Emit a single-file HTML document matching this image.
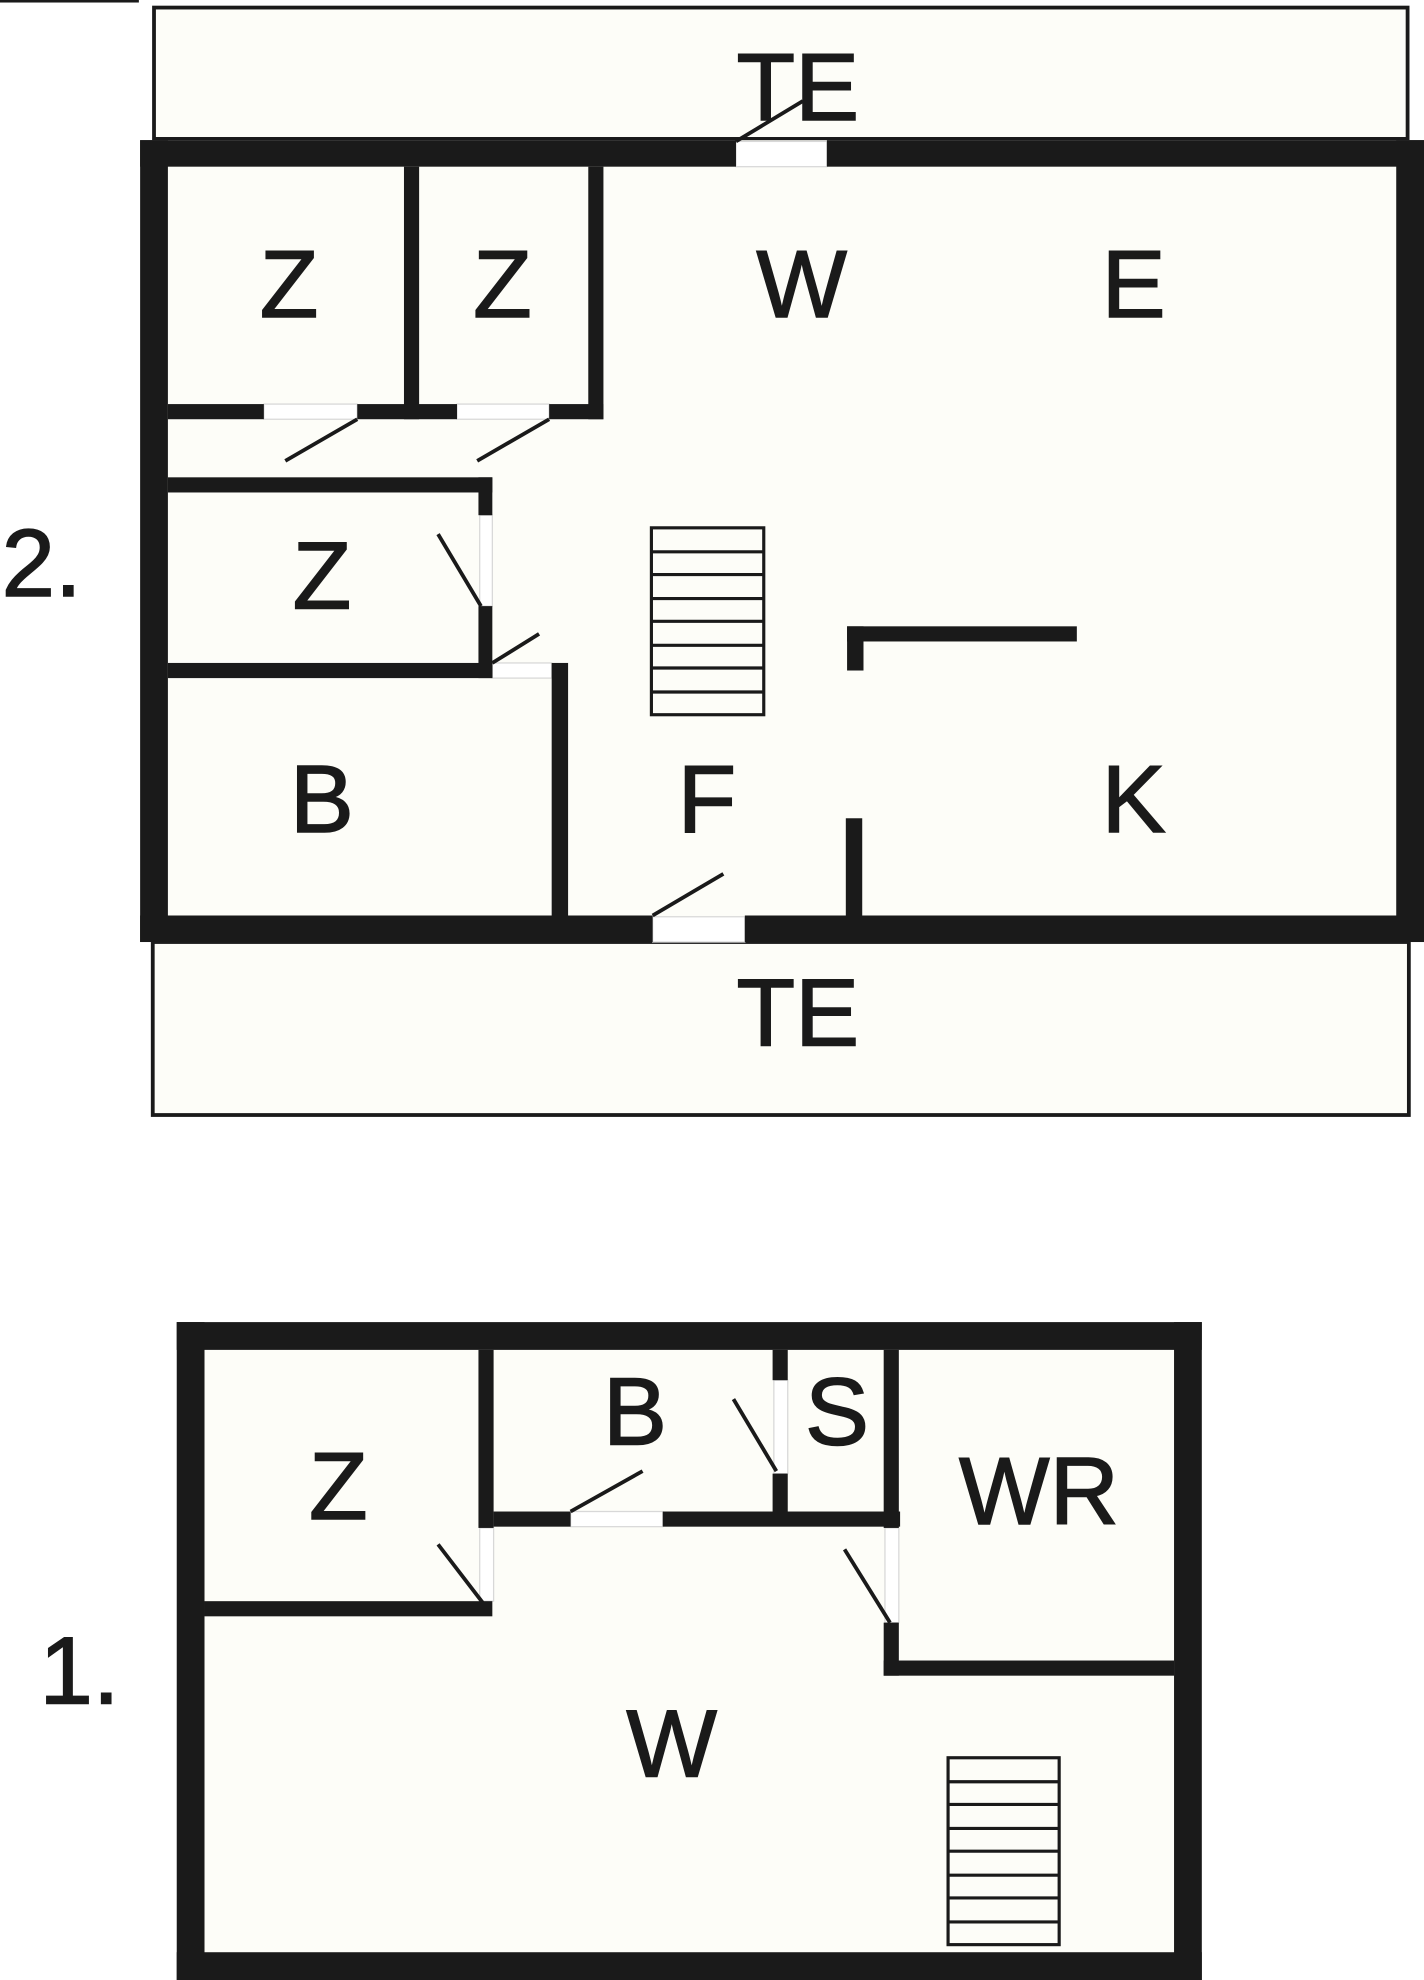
<!DOCTYPE html>
<html><head><meta charset="utf-8"><style>
html,body{margin:0;padding:0;background:#fff;width:1424px;height:1980px;overflow:hidden}
svg{display:block}
text{font-family:"Liberation Sans",Arial,sans-serif;font-size:76px;fill:#1a1a1a;stroke:#1a1a1a;stroke-width:1.2;text-anchor:middle}
</style></head><body>
<svg width="1424" height="1980" viewBox="0 0 1128 1568" preserveAspectRatio="none" xmlns="http://www.w3.org/2000/svg">
<g fill="#1a1a1a">
<rect x="0" y="0" width="110" height="2"/>
</g>
<!-- UPPER PLAN -->
<rect x="122" y="6" width="993" height="104" fill="#fdfdf8" stroke="#1a1a1a" stroke-width="3"/>
<rect x="121" y="746" width="995" height="137" fill="#fdfdf8" stroke="#1a1a1a" stroke-width="3"/>
<rect x="111" y="111" width="1017" height="635" fill="#fdfdf8"/>
<g fill="#fff" stroke="#d8d8d8" stroke-width="1">
<rect x="583" y="112" width="72" height="20"/>
<rect x="517" y="726" width="73" height="20"/>
<rect x="209" y="320" width="74" height="12"/>
<rect x="362" y="320" width="73" height="12"/>
<rect x="380" y="408" width="10" height="72"/>
<rect x="390" y="525" width="47" height="12"/>
<rect x="452" y="1197" width="73" height="12"/>
<rect x="613" y="1093" width="11" height="74"/>
<rect x="701" y="1210" width="11" height="75"/>
<rect x="380" y="1210" width="11" height="58"/>
</g>
<g fill="#1a1a1a">
<rect x="111" y="111" width="472" height="21"/>
<rect x="655" y="111" width="473" height="21"/>
<rect x="111" y="111" width="22" height="635"/>
<rect x="1106" y="111" width="22" height="635"/>
<rect x="111" y="725" width="406" height="21"/>
<rect x="590" y="725" width="538" height="21"/>
<rect x="320" y="132" width="12" height="200"/>
<rect x="466" y="132" width="12" height="200"/>
<rect x="133" y="320" width="76" height="12"/>
<rect x="283" y="320" width="79" height="12"/>
<rect x="435" y="320" width="43" height="12"/>
<rect x="133" y="378" width="257" height="12"/>
<rect x="379" y="378" width="11" height="30"/>
<rect x="379" y="480" width="11" height="57"/>
<rect x="133" y="525" width="257" height="12"/>
<rect x="437" y="525" width="13" height="200"/>
<rect x="671" y="496" width="182" height="12"/>
<rect x="671" y="496" width="13" height="35"/>
<rect x="670" y="648" width="13" height="77"/>
</g>
<g stroke="#1a1a1a" stroke-width="3" fill="none">
<line x1="583" y1="112" x2="636" y2="80"/>
<line x1="517" y1="725" x2="573" y2="692"/>
<line x1="226" y1="365" x2="283" y2="332"/>
<line x1="378" y1="365" x2="435" y2="332"/>
<line x1="347" y1="423" x2="381" y2="480"/>
<line x1="390" y1="525" x2="427" y2="502"/>
</g>
<g stroke="#1a1a1a" stroke-width="2.5" fill="none">
<rect x="516" y="418" width="89" height="148"/>
<line x1="516" y1="437" x2="605" y2="437"/>
<line x1="516" y1="455" x2="605" y2="455"/>
<line x1="516" y1="474" x2="605" y2="474"/>
<line x1="516" y1="492" x2="605" y2="492"/>
<line x1="516" y1="511" x2="605" y2="511"/>
<line x1="516" y1="529" x2="605" y2="529"/>
<line x1="516" y1="548" x2="605" y2="548"/>
</g>
<text x="632" y="95">TE</text>
<text x="632" y="828">TE</text>
<text x="229" y="251">Z</text>
<text x="398" y="251">Z</text>
<text x="635" y="251">W</text>
<text x="898" y="251">E</text>
<text x="255" y="482">Z</text>
<text x="255" y="659">B</text>
<text x="560" y="659">F</text>
<text x="898" y="659">K</text>
<text x="33" y="472">2.</text>
<!-- LOWER PLAN -->
<rect x="162" y="1069" width="768" height="477" fill="#fdfdf8"/>
<g fill="#fff" stroke="#d8d8d8" stroke-width="1">
<rect x="452" y="1197" width="73" height="12"/>
<rect x="613" y="1093" width="11" height="74"/>
<rect x="701" y="1210" width="11" height="75"/>
<rect x="380" y="1210" width="11" height="58"/>
</g>
<g fill="#1a1a1a">
<rect x="140" y="1047" width="812" height="22"/>
<rect x="140" y="1047" width="22" height="521"/>
<rect x="930" y="1047" width="22" height="521"/>
<rect x="140" y="1546" width="812" height="22"/>
<rect x="162" y="1268" width="228" height="12"/>
<rect x="379" y="1069" width="12" height="141"/>
<rect x="391" y="1197" width="61" height="12"/>
<rect x="525" y="1197" width="188" height="12"/>
<rect x="612" y="1069" width="12" height="24"/>
<rect x="612" y="1167" width="12" height="33"/>
<rect x="700" y="1069" width="12" height="141"/>
<rect x="700" y="1285" width="12" height="42"/>
<rect x="700" y="1315" width="230" height="12"/>
</g>
<g stroke="#1a1a1a" stroke-width="3" fill="none">
<line x1="347" y1="1223" x2="383" y2="1270"/>
<line x1="452" y1="1197" x2="509" y2="1165"/>
<line x1="581" y1="1108" x2="615" y2="1165"/>
<line x1="669" y1="1227" x2="705" y2="1285"/>
</g>
<g stroke="#1a1a1a" stroke-width="2.5" fill="none">
<rect x="751" y="1392" width="88" height="148"/>
<line x1="751" y1="1411" x2="839" y2="1411"/>
<line x1="751" y1="1429" x2="839" y2="1429"/>
<line x1="751" y1="1448" x2="839" y2="1448"/>
<line x1="751" y1="1466" x2="839" y2="1466"/>
<line x1="751" y1="1485" x2="839" y2="1485"/>
<line x1="751" y1="1503" x2="839" y2="1503"/>
<line x1="751" y1="1522" x2="839" y2="1522"/>
</g>
<text x="503" y="1144">B</text>
<text x="663" y="1144">S</text>
<text x="268" y="1203">Z</text>
<text x="823" y="1207">WR</text>
<text x="532" y="1407">W</text>
<text x="63" y="1349">1.</text>
</svg>
</body></html>
